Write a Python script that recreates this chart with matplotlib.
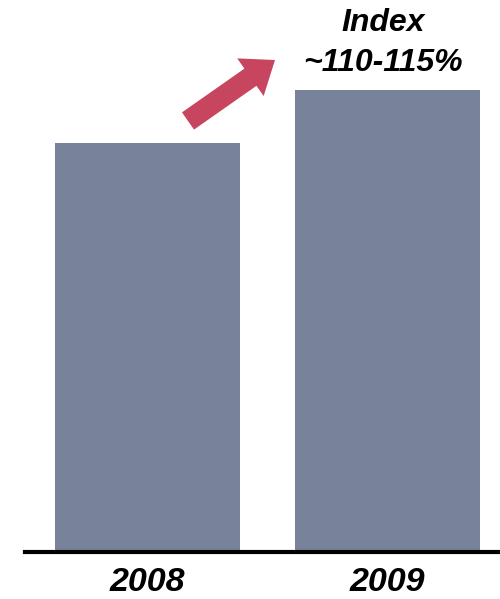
import matplotlib
matplotlib.use("Agg")
import matplotlib.pyplot as plt
from matplotlib.patches import FancyArrow

years = ["2008", "2009"]
values = [100, 113]
annotation = ["Index", "~110-115%"]

bar_color = "#78829A"
arrow_color = "#C8455F"

W, H = 500, 599
fig = plt.figure(figsize=(W / 100, H / 100), dpi=100)
plt.rcParams['font.family'] = ['Liberation Sans', 'DejaVu Sans']

base_y = 552
ax = fig.add_axes([25 / W, (H - base_y) / H, 1 - 25 / W, base_y / H])
ax.bar(range(len(years)), values, width=0.771, color=bar_color)
ax.set_xlim(-0.510, 1.469)
ax.set_ylim(0, 135)
for s in ["top", "right", "left"]:
    ax.spines[s].set_visible(False)
ax.spines["bottom"].set_linewidth(3)
ax.spines["bottom"].set_color("black")
ax.set_yticks([])
ax.set_xticks(range(len(years)))
ax.set_xticklabels(years, fontsize=24.5, fontweight="bold", fontstyle="italic")
ax.tick_params(axis="x", length=0, pad=11)

# overlay in pixel coordinates for arrow and annotation
ov = fig.add_axes([0, 0, 1, 1], facecolor="none")
ov.set_xlim(0, W)
ov.set_ylim(H, 0)
ov.axis("off")
x0, y0 = 188, 121
x1, y1 = 275, 60
ov.add_patch(FancyArrow(x0, y0, x1 - x0, y1 - y0, width=21, head_width=46,
                        head_length=30, length_includes_head=True,
                        color=arrow_color, linewidth=0))
ov.text(383, 23, annotation[0], ha="center", va="center", fontsize=23,
        fontweight="bold", fontstyle="italic")
ov.text(383, 63, annotation[1], ha="center", va="center", fontsize=23,
        fontweight="bold", fontstyle="italic")

fig.savefig("out.png", dpi=100)
